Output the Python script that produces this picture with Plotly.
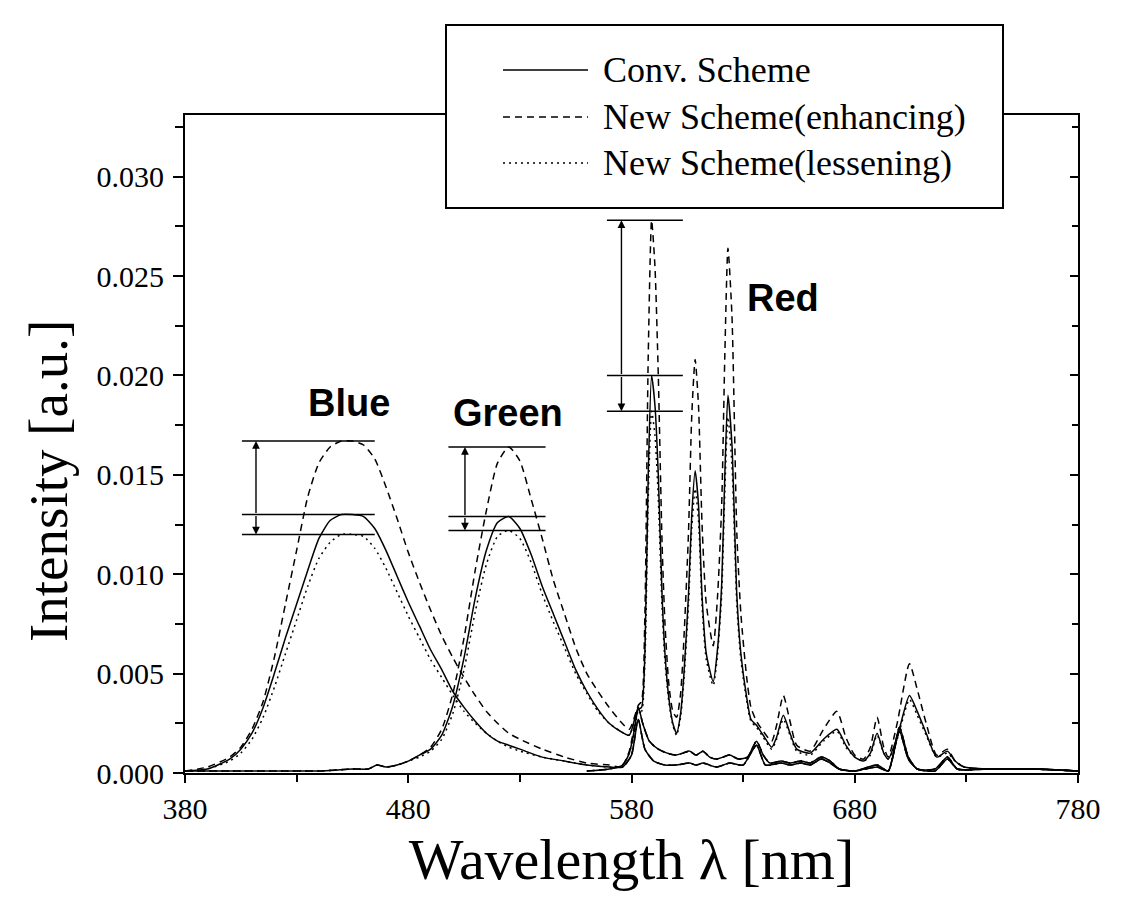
import plotly.graph_objects as go

# ---------------- data ----------------
# Blue spectrum, peak region
blue_wl = [380, 390, 400, 405, 410, 415, 420, 425, 430, 435, 440, 445, 450, 455, 460, 465, 470,
           475, 480, 485, 490, 495, 500, 505, 510, 515, 520, 525, 530, 540, 550, 560, 570]
blue_conv = [0.0001, 0.0002, 0.0007, 0.0012, 0.0020, 0.0033, 0.0050, 0.0068, 0.0085, 0.0102, 0.0118,
             0.0127, 0.0130, 0.0130, 0.0129, 0.0123, 0.0112, 0.0099, 0.0086, 0.0074, 0.0062, 0.0052,
             0.0041, 0.0033, 0.0026, 0.0020, 0.0016, 0.0014, 0.0012, 0.0008, 0.0006, 0.0004, 0.0003]
blue_enh = [0.0001, 0.0003, 0.0008, 0.0013, 0.0022, 0.0036, 0.0058, 0.0085, 0.0112, 0.0139, 0.0156,
            0.0164, 0.0167, 0.0167, 0.0165, 0.0158, 0.0144, 0.0128, 0.0111, 0.0096, 0.0082, 0.0069,
            0.0058, 0.0048, 0.0039, 0.0031, 0.0025, 0.0020, 0.0017, 0.0012, 0.0008, 0.0005, 0.0004]
blue_less = [0.0001, 0.0002, 0.0006, 0.0010, 0.0017, 0.0028, 0.0043, 0.0060, 0.0077, 0.0094, 0.0108,
             0.0116, 0.0120, 0.0120, 0.0119, 0.0113, 0.0103, 0.0091, 0.0079, 0.0068, 0.0057, 0.0048,
             0.0039, 0.0031, 0.0025, 0.0020, 0.0016, 0.0013, 0.0011, 0.0008, 0.0006, 0.0004, 0.0003]
# Blue spectrum, long-wavelength tail (common to all schemes)
blue_tail_wl = [576, 580, 583, 586, 590, 595, 600, 606, 609, 612, 618, 624, 630, 636, 640, 647, 651,
                656, 660, 665, 669, 673, 680, 690, 695, 700, 704, 708, 716, 721.5, 726, 740, 760, 780]
blue_tail = [0.0003, 0.0009, 0.0027, 0.0012, 0.0006, 0.0004, 0.0004, 0.0005, 0.0004, 0.0005, 0.0003,
             0.0005, 0.0004, 0.0014, 0.0004, 0.0005, 0.0004, 0.0005, 0.0004, 0.0007, 0.0005, 0.0002,
             0.0001, 0.0003, 0.0001, 0.0021, 0.0007, 0.0002, 0.0001, 0.0007, 0.0002, 0.0002, 0.0002, 0.0001]

# Green spectrum, peak region
green_wl = [380, 400, 420, 440, 455, 462, 466, 470, 475, 480, 485, 490, 495, 500, 505, 510, 515,
            520, 525, 530, 535, 540, 545, 550, 555, 560, 565, 570, 575, 579]
green_conv = [0.0001, 0.0001, 0.0001, 0.0001, 0.0002, 0.0002, 0.0004, 0.0003, 0.0004, 0.0006, 0.0009,
              0.0012, 0.0019, 0.0034, 0.0058, 0.0088, 0.0112, 0.0126, 0.0129, 0.0123, 0.0110, 0.0094,
              0.0080, 0.0066, 0.0052, 0.0041, 0.0032, 0.0025, 0.0021, 0.0019]
green_enh = [0.0001, 0.0001, 0.0001, 0.0001, 0.0002, 0.0002, 0.0004, 0.0003, 0.0004, 0.0006, 0.0009,
             0.0013, 0.0022, 0.0040, 0.0068, 0.0102, 0.0132, 0.0156, 0.0164, 0.0157, 0.0138, 0.0118,
             0.0097, 0.0080, 0.0063, 0.0050, 0.0041, 0.0033, 0.0026, 0.0022]
green_less = [0.0001, 0.0001, 0.0001, 0.0001, 0.0002, 0.0002, 0.0004, 0.0003, 0.0004, 0.0006, 0.0008,
              0.0011, 0.0017, 0.0030, 0.0052, 0.0081, 0.0105, 0.0119, 0.0122, 0.0118, 0.0106, 0.0090,
              0.0076, 0.0063, 0.0050, 0.0040, 0.0031, 0.0025, 0.0021, 0.0019]
# Green spectrum tail (common to all schemes)
green_tail_wl = [583, 585, 588, 592, 596, 600, 603, 606, 609, 612, 615, 618, 621, 624, 628, 632, 636,
                 639, 642, 647, 651, 656, 660, 665, 669, 673, 680, 690, 695, 700, 704, 708, 716, 721.5,
                 726, 740, 760, 780]
green_tail = [0.0033, 0.0025, 0.0016, 0.0012, 0.0010, 0.0009, 0.0010, 0.0011, 0.0009, 0.0011, 0.0008,
              0.0007, 0.0008, 0.0009, 0.0007, 0.0008, 0.0016, 0.0009, 0.0005, 0.0006, 0.0005, 0.0006,
              0.0005, 0.0008, 0.0006, 0.0002, 0.0001, 0.0004, 0.0001, 0.0023, 0.0008, 0.0002, 0.0002,
              0.0008, 0.0002, 0.0002, 0.0002, 0.0001]

# Red spectrum
red_wl = [560, 570, 576, 579, 581, 583, 584.5, 586, 587.5, 589, 590.5, 592, 593.7, 595, 596.7, 598.5,
          600.2, 602, 603.5, 605.5, 607, 608.5, 610, 611.6, 613.5, 616.6, 618.5, 620.4, 621.8, 623.2,
          625, 627.2, 629, 631.6, 633.5, 636, 639, 642.8, 645, 648, 651, 654, 660, 666, 672, 676, 680,
          684, 687, 690, 693, 695, 699, 704.5, 708, 712, 716.7, 721.5, 725, 729, 740, 760, 780]
red_conv = [0.0001, 0.0002, 0.0004, 0.0010, 0.0020, 0.0032, 0.0033, 0.0060, 0.0150, 0.0200, 0.0185,
            0.0150, 0.0089, 0.0060, 0.0038, 0.0025, 0.0020, 0.0030, 0.0050, 0.0089, 0.0130, 0.0152,
            0.0135, 0.0089, 0.0060, 0.0046, 0.0062, 0.0095, 0.0150, 0.0190, 0.0165, 0.0089, 0.0060,
            0.0038, 0.0027, 0.0024, 0.0019, 0.0013, 0.0018, 0.0029, 0.0020, 0.0012, 0.0010, 0.0017,
            0.0022, 0.0014, 0.0008, 0.0006, 0.0010, 0.0020, 0.0010, 0.0007, 0.0018, 0.0039, 0.0031,
            0.0020, 0.0008, 0.0011, 0.0006, 0.0003, 0.0002, 0.0002, 0.0001]
red_enh = [0.0001, 0.0002, 0.0004, 0.0011, 0.0022, 0.0034, 0.0036, 0.0080, 0.0210, 0.0278, 0.0255,
           0.0200, 0.0115, 0.0075, 0.0045, 0.0031, 0.0028, 0.0040, 0.0068, 0.0120, 0.0180, 0.0208,
           0.0185, 0.0125, 0.0085, 0.0064, 0.0088, 0.0135, 0.0210, 0.0264, 0.0230, 0.0120, 0.0080,
           0.0048, 0.0033, 0.0026, 0.0021, 0.0016, 0.0024, 0.0039, 0.0026, 0.0014, 0.0011, 0.0022,
           0.0031, 0.0018, 0.0009, 0.0007, 0.0013, 0.0028, 0.0013, 0.0008, 0.0025, 0.0055, 0.0042,
           0.0025, 0.0009, 0.0012, 0.0006, 0.0003, 0.0002, 0.0002, 0.0001]
red_less = [0.0001, 0.0002, 0.0004, 0.0010, 0.0019, 0.0031, 0.0031, 0.0056, 0.0138, 0.0182, 0.0170,
            0.0138, 0.0083, 0.0056, 0.0036, 0.0024, 0.0019, 0.0028, 0.0047, 0.0084, 0.0123, 0.0143,
            0.0127, 0.0084, 0.0057, 0.0044, 0.0059, 0.0090, 0.0141, 0.0179, 0.0155, 0.0084, 0.0057,
            0.0036, 0.0026, 0.0023, 0.0018, 0.0012, 0.0017, 0.0027, 0.0019, 0.0011, 0.0009, 0.0016,
            0.0021, 0.0013, 0.0008, 0.0006, 0.0009, 0.0019, 0.0010, 0.0007, 0.0017, 0.0037, 0.0029,
            0.0019, 0.0008, 0.0010, 0.0006, 0.0003, 0.0002, 0.0002, 0.0001]

series_names = ["Conv. Scheme", "New Scheme(enhancing)", "New Scheme(lessening)"]
x_ticks = [380, 480, 580, 680, 780]

# ---------------- styling ----------------
SERIF = "Liberation Serif, Times New Roman, serif"
SANS = "Liberation Sans, Arial, sans-serif"
dash_styles = {"conv": "solid", "enh": "7px,5px", "less": "2px,4px"}
LW = 1.5
Y_RANGE = [0, 0.0331]

fig = go.Figure()

def add_curve(x, y, style):
    fig.add_trace(go.Scatter(
        x=x, y=y, mode="lines", showlegend=False,
        line=dict(color="black", width=LW, dash=dash_styles[style], shape="spline", smoothing=0.6),
        hoverinfo="skip"))

for style, b, g, r in [("less", blue_less, green_less, red_less),
                       ("enh", blue_enh, green_enh, red_enh),
                       ("conv", blue_conv, green_conv, red_conv)]:
    add_curve(blue_wl + blue_tail_wl, b + blue_tail, style)
    add_curve(green_wl + green_tail_wl, g + green_tail, style)
    add_curve(red_wl, r, style)

# invisible helper so the right-hand (inward-tick) axis is drawn
fig.add_trace(go.Scatter(x=[blue_wl[0]], y=[0], yaxis="y2", mode="lines", showlegend=False,
                         hoverinfo="skip", line=dict(width=0)))

# ---------------- peak-difference markers ----------------
shapes = []
annotations = []
groups = [
    # (enh, conv, less, line x-span, arrow x, label, label position)
    (blue_enh, blue_conv, blue_less, (405.5, 465), 411.8, "Blue", (453.5, 0.0186)),
    (green_enh, green_conv, green_less, (498, 541.5), 505.4, "Green", (524.5, 0.0181)),
    (red_enh, red_conv, red_less, (569, 603), 575.5, "Red", (648, 0.0239)),
]
for enh, conv, less, (xa, xb), xarr, label, (lx, ly) in groups:
    top, mid, bot = max(enh), max(conv), max(less)
    for yy in (top, mid, bot):
        shapes.append(dict(type="line", xref="x", yref="y", x0=xa, x1=xb, y0=yy, y1=yy,
                           line=dict(color="black", width=1.5)))
    for yy in (top, bot):
        annotations.append(dict(x=xarr, y=yy, ax=xarr, ay=mid, xref="x", yref="y",
                                axref="x", ayref="y", text="", showarrow=True,
                                arrowhead=2, arrowsize=1.1, arrowwidth=1.4, arrowcolor="black"))
    annotations.append(dict(x=lx, y=ly, xref="x", yref="y", text="<b>%s</b>" % label,
                            showarrow=False, font=dict(family=SANS, size=38, color="black")))

# ---------------- hand-drawn legend box (paper coords) ----------------
L, R, T, B = 185, 1078, 115, 773
W, H = R - L, B - T
def px(xp):
    return (xp - L) / W
def py(yp):
    return (B - yp) / H

shapes.append(dict(type="rect", xref="paper", yref="paper", x0=px(446), x1=px(1003),
                   y0=py(208), y1=py(25), fillcolor="white",
                   line=dict(color="black", width=2), layer="above"))
legend_rows = [70, 117, 163]
for name, style, yrow in zip(series_names, ["conv", "enh", "less"], legend_rows):
    shapes.append(dict(type="line", xref="paper", yref="paper", x0=px(503), x1=px(588),
                       y0=py(yrow), y1=py(yrow), layer="above",
                       line=dict(color="black", width=1.5, dash=dash_styles[style])))
    annotations.append(dict(x=px(601), y=py(yrow), xref="paper", yref="paper", text=name,
                            xanchor="left", yanchor="middle", showarrow=False,
                            font=dict(family=SERIF, size=36, color="black")))

# y-axis title, placed like the reference (slightly below the axis centre)
annotations.append(dict(x=px(48), y=py(481), xref="paper", yref="paper",
                        text="Intensity [a.u.]", textangle=-90, showarrow=False,
                        xanchor="center", yanchor="middle",
                        font=dict(family=SERIF, size=55, color="black")))

axis_common = dict(showline=True, linecolor="black", linewidth=2, mirror=True,
                   ticks="outside", tickwidth=1.5, tickcolor="black",
                   showgrid=False, zeroline=False,
                   tickfont=dict(family=SERIF, size=30, color="black"))

fig.update_layout(
    width=1121, height=906, autosize=False,
    margin=dict(l=L, r=1121 - R, t=T, b=906 - B),
    paper_bgcolor="white", plot_bgcolor="white",
    shapes=shapes, annotations=annotations, showlegend=False,
    xaxis=dict(range=[380, 780], tickvals=x_ticks, ticktext=[str(v) for v in x_ticks],
               ticklen=8,
               minor=dict(dtick=50, tick0=380, ticks="outside", ticklen=7, tickcolor="black"),
               ticklabelstandoff=0,
               title=dict(text="Wavelength λ [nm]", standoff=14,
                          font=dict(family=SERIF, size=58, color="black")),
               **axis_common),
    yaxis=dict(range=Y_RANGE, dtick=0.005, tick0=0, tickformat=".3f",
               ticklen=10,
               minor=dict(dtick=0.0025, tick0=0, ticks="outside", ticklen=8, tickcolor="black"),
               ticklabelstandoff=3,
               **axis_common),
    yaxis2=dict(range=Y_RANGE, overlaying="y", side="right", dtick=0.005, tick0=0,
                ticks="inside", ticklen=8, tickwidth=1.5, tickcolor="black",
                minor=dict(dtick=0.0025, tick0=0, ticks="inside", ticklen=6, tickcolor="black"),
                showticklabels=False, showgrid=False, zeroline=False, showline=False),
)

fig.write_html("out.html")
